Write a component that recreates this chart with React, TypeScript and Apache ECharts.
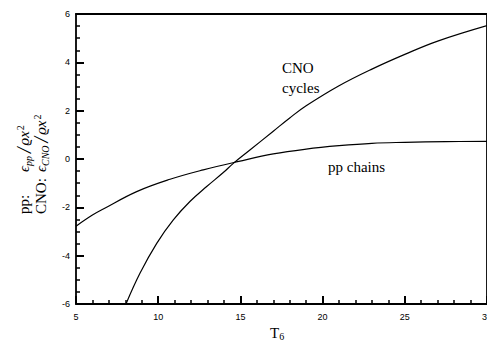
import React, { useEffect, useRef } from "react";
import * as echarts from "echarts";

// Temperature T6 (x) and log-scaled energy generation (y)
const ppT = [5, 6, 6.66, 8.69, 10.72, 12.74, 14.9, 17, 19, 21, 23, 25, 27.5, 30];
const ppValues = [-2.78, -2.32, -2.07, -1.35, -0.84, -0.45, -0.1, 0.21, 0.41, 0.55, 0.65, 0.69, 0.72, 0.73];

const cnoT = [8.04, 8.89, 9.91, 10.92, 11.93, 12.95, 13.96, 14.57, 15.54, 17, 18, 19, 21, 23, 25, 27, 30];
const cnoValues = [-6, -4.73, -3.49, -2.52, -1.76, -1.14, -0.56, -0.18, 0.35, 1.15, 1.7, 2.2, 3.03, 3.72, 4.33, 4.88, 5.52];

const xTicks = { min: 5, max: 30, interval: 5 };
const yTicks = { min: -6, max: 6, interval: 2 };

const SERIF = "'Liberation Serif', 'DejaVu Serif', serif";
const SANS = "'Liberation Sans', Arial, sans-serif";

const formulaRich = {
  i: { fontFamily: SERIF, fontSize: 15, fontStyle: "italic", fill: "#000", lineHeight: 18 },
  sub: { fontFamily: SERIF, fontSize: 10, fontStyle: "italic", fill: "#000", verticalAlign: "bottom", lineHeight: 18, padding: [0, 1, 0, 0] },
  sup: { fontFamily: SERIF, fontSize: 10, fill: "#000", verticalAlign: "top", lineHeight: 18, padding: [0, 0, 0, 1] },
  sl: { fontFamily: SERIF, fontSize: 20, fontStyle: "italic", fill: "#000", lineHeight: 18, padding: [0, 2, 0, 2] },
};

const frameAxis = {
  axisLine: { show: true, onZero: false, lineStyle: { color: "#000", width: 1.8 } },
  axisTick: { show: false },
  minorTick: { show: false },
  axisLabel: { show: false },
  splitLine: { show: false },
};

export default function App() {
  const ref = useRef<HTMLDivElement>(null);

  useEffect(() => {
    if (!ref.current) return;
    const chart = echarts.init(ref.current, null, { renderer: "svg" });
    const pp = ppT.map((t, i) => [t, ppValues[i]]);
    const cno = cnoT.map((t, i) => [t, cnoValues[i]]);

    chart.setOption({
      animation: false,
      backgroundColor: "#fff",
      grid: { left: 76, top: 14, right: 33, bottom: 37, show: false },
      xAxis: [
        {
          // tick axis
          type: "value",
          min: xTicks.min,
          max: xTicks.max,
          interval: xTicks.interval,
          axisLine: { show: true, onZero: false, lineStyle: { color: "#000", width: 1.8 } },
          axisTick: { show: true, inside: true, length: 8, lineStyle: { color: "#000", width: 2 } },
          minorTick: { show: true, splitNumber: 5, length: 4, lineStyle: { color: "#000", width: 1.5 } },
          splitLine: { show: false },
          axisLabel: { show: false },
        },
        {
          // label axis
          type: "value",
          position: "bottom",
          min: xTicks.min,
          max: xTicks.max,
          interval: xTicks.interval,
          axisLine: { show: false, onZero: false },
          axisTick: { show: false },
          minorTick: { show: false },
          splitLine: { show: false },
          axisLabel: { show: true, color: "#000", fontFamily: SANS, fontSize: 9, margin: 8 },
        },
        { type: "value", position: "top", min: xTicks.min, max: xTicks.max, interval: xTicks.interval, ...frameAxis },
      ],
      yAxis: [
        {
          type: "value",
          min: yTicks.min,
          max: yTicks.max,
          interval: yTicks.interval,
          axisLine: { show: true, onZero: false, lineStyle: { color: "#000", width: 1.8 } },
          axisTick: { show: true, inside: true, length: 8, lineStyle: { color: "#000", width: 2 } },
          minorTick: { show: true, splitNumber: 4, length: 4, lineStyle: { color: "#000", width: 1.5 } },
          splitLine: { show: false },
          axisLabel: { show: false },
        },
        {
          type: "value",
          position: "left",
          min: yTicks.min,
          max: yTicks.max,
          interval: yTicks.interval,
          axisLine: { show: false, onZero: false },
          axisTick: { show: false },
          minorTick: { show: false },
          splitLine: { show: false },
          axisLabel: { show: true, color: "#000", fontFamily: SANS, fontSize: 9, margin: 6 },
        },
        { type: "value", position: "right", min: yTicks.min, max: yTicks.max, interval: yTicks.interval, ...frameAxis },
      ],
      series: [
        {
          name: "pp chains",
          type: "line",
          xAxisIndex: 0,
          yAxisIndex: 0,
          data: pp,
          smooth: 0.4,
          showSymbol: false,
          lineStyle: { color: "#000", width: 1.2 },
        },
        {
          name: "CNO cycles",
          type: "line",
          xAxisIndex: 0,
          yAxisIndex: 0,
          data: cno,
          smooth: 0.4,
          showSymbol: false,
          lineStyle: { color: "#000", width: 1.2 },
        },
      ],
      graphic: [
        {
          type: "text",
          left: 282,
          top: 60,
          style: { text: "CNO", fontFamily: SERIF, fontSize: 15, fill: "#000" },
        },
        {
          type: "text",
          left: 282,
          top: 80,
          style: { text: "cycles", fontFamily: SERIF, fontSize: 15, fill: "#000" },
        },
        {
          type: "text",
          left: 328,
          top: 159,
          style: { text: "pp chains", fontFamily: SERIF, fontSize: 15, fill: "#000" },
        },
        {
          type: "text",
          x: 270,
          y: 333,
          style: {
            text: "{t|T}{s|6}",
            verticalAlign: "middle",
            rich: {
              t: { fontFamily: SERIF, fontSize: 15, fill: "#000", lineHeight: 16 },
              s: { fontFamily: SERIF, fontSize: 10, fill: "#000", verticalAlign: "bottom", lineHeight: 16 },
            },
          },
        },
        {
          type: "text",
          x: 24,
          y: 214,
          rotation: Math.PI / 2,
          style: { text: "pp:", fontFamily: SERIF, fontSize: 15, fill: "#000", align: "left", verticalAlign: "middle" },
        },
        {
          type: "text",
          x: 24,
          y: 172,
          rotation: Math.PI / 2,
          style: {
            text: "{i|ϵ}{sub|pp}{sl|/}{i|ϱx}{sup|2}",
            align: "left",
            verticalAlign: "middle",
            rich: formulaRich,
          },
        },
        {
          type: "text",
          x: 41,
          y: 214,
          rotation: Math.PI / 2,
          style: { text: "CNO:", fontFamily: SERIF, fontSize: 15, fill: "#000", align: "left", verticalAlign: "middle" },
        },
        {
          type: "text",
          x: 41,
          y: 172,
          rotation: Math.PI / 2,
          style: {
            text: "{i|ϵ}{sub|CNO}{sl|/}{i|ϱx}{sup|2}",
            align: "left",
            verticalAlign: "middle",
            rich: formulaRich,
          },
        },
      ],
    });

    return () => chart.dispose();
  }, []);

  return (
    <div
      style={{
        position: "fixed",
        left: 0,
        top: 0,
        width: 487,
        height: 341,
        overflow: "hidden",
        background: "#fff",
      }}
    >
      <div ref={ref} style={{ width: 520, height: 341 }} />
    </div>
  );
}
